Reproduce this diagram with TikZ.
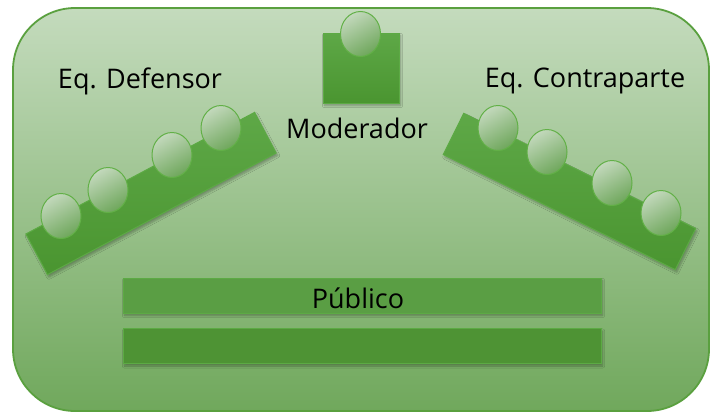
\documentclass[tikz,border=0pt]{standalone}
\usepackage{fontspec}
\setmainfont{Open Sans}
\usetikzlibrary{shapes.geometric,shadows.blur}
\definecolor{frameline}{HTML}{5AA03F}
\definecolor{bgtop}{HTML}{C4DBBD}
\definecolor{bgbot}{HTML}{70A85C}
\definecolor{benchA}{HTML}{5EA847}
\definecolor{benchB}{HTML}{4A9530}
\definecolor{headA}{HTML}{C2D8BB}
\definecolor{headB}{HTML}{6FA75C}
\definecolor{headline}{HTML}{62B047}
\definecolor{barA}{HTML}{5A9E44}
\definecolor{barB}{HTML}{4E9334}
\definecolor{barline}{HTML}{5CAA44}
\tikzset{
  shadowed/.style={blur shadow={shadow xshift=1.5pt,shadow yshift=-2.5pt,shadow blur steps=6,shadow opacity=30}},
  bench/.style={rectangle,draw=barline,line width=1pt,top color=benchA,bottom color=benchB,minimum width=259pt,minimum height=46pt,inner sep=0pt,shadowed},
  head/.style={ellipse,draw=headline,line width=1pt,shading=axis,top color=headA,bottom color=headB,shading angle=30,minimum width=40pt,minimum height=45pt,inner sep=0pt},
  bar/.style={rectangle,draw=barline,line width=1pt,minimum width=478pt,minimum height=35pt,inner sep=0pt,shadowed},
  lbl/.style={font=\fontsize{27}{32}\selectfont,text=black,inner sep=0pt}
}
\begin{document}
\begin{tikzpicture}[x=1pt,y=-1pt]
\useasboundingbox (0,0) rectangle (714,413);
% frame
\draw[frameline,line width=1.8pt,top color=bgtop,bottom color=bgbot,rounded corners=62pt] (13,8) rectangle (709,411);
% moderator
\node[rectangle,draw=barline,line width=1pt,top color=benchA,bottom color=benchB,minimum width=76pt,minimum height=70pt,inner sep=0pt,shadowed] (mod) at (361,68) {};
\node[head] (modh) at (360.5,34) {};
% left bench
\node[bench,rotate=28] (benchL) at (151,193.5) {};
\node[head] (l1) at (221,128) {};
\node[head] (l2) at (172,155) {};
\node[head] (l3) at (108,190) {};
\node[head] (l4) at (61,216) {};
% right bench
\node[bench,rotate=-26.4] (benchR) at (569.5,191.5) {};
\node[head] (r1) at (498,128) {};
\node[head] (r2) at (547,152) {};
\node[head] (r3) at (612,183) {};
\node[head] (r4) at (661,213) {};
% public
\node[bar,fill=barA] (pub1) at (362,295.5) {};
\node[bar,fill=barB] (pub2) at (362,346) {};
% labels
\node[lbl] (tdef) at (140,81) {Eq. Defensor};
\node[lbl] (tcon) at (585,81) {Eq. Contraparte};
\node[lbl] (tmod) at (357,128) {Moderador};
\node[lbl] (tpub) at (358,298) {Público};
\end{tikzpicture}
\end{document}
